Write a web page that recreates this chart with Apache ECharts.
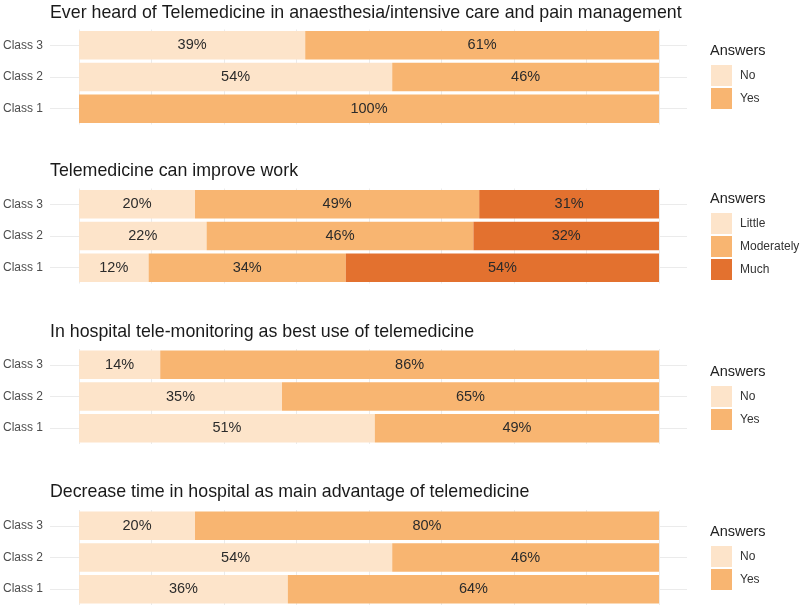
<!DOCTYPE html>
<html>
<head>
<meta charset="utf-8">
<script src="https://cdn.jsdelivr.net/npm/echarts@6/dist/echarts.min.js"></script>
<style>
  html, body { margin: 0; padding: 0; background: #fff; }
  #main { width: 800px; height: 608px; }
</style>
</head>
<body>
<div id="main"></div>
<script>
// categories, bottom to top
var classes = ['Class 1', 'Class 2', 'Class 3'];

var panelTitles = [
	'Ever heard of Telemedicine in anaesthesia/intensive care and pain management',
	'Telemedicine can improve work',
	'In hospital tele-monitoring as best use of telemedicine',
	'Decrease time in hospital as main advantage of telemedicine'
];

// percentages per class (Class 1, Class 2, Class 3)
var heardNo = [0, 54, 39];
var heardYes = [100, 46, 61];

var improveLittle = [12, 22, 20];
var improveModerately = [34, 46, 49];
var improveMuch = [54, 32, 31];

var monitoringNo = [51, 35, 14];
var monitoringYes = [49, 65, 86];

var timeNo = [36, 54, 20];
var timeYes = [64, 46, 80];

var panels = [
	[ { name : 'No', values : heardNo }, { name : 'Yes', values : heardYes } ],
	[ { name : 'Little', values : improveLittle }, { name : 'Moderately', values : improveModerately }, { name : 'Much', values : improveMuch } ],
	[ { name : 'No', values : monitoringNo }, { name : 'Yes', values : monitoringYes } ],
	[ { name : 'No', values : timeNo }, { name : 'Yes', values : timeYes } ]
];

var colors = {
	'No' : '#fde4ca',
	'Little' : '#fde4ca',
	'Yes' : '#f8b571',
	'Moderately' : '#f8b571',
	'Much' : '#e3712f'
};

// layout
var gridTop = [29.5, 188.5, 349, 510];
var gridHeight = 95;
var titleTop = [4, 162, 323, 483];
var legendTop = [65, 213, 386, 546];

var gridColor = '#ebebeb';
var font = '"Liberation Sans", Arial, Helvetica, sans-serif';

var option = {
	animation : false,
	backgroundColor : '#ffffff',
	textStyle : { fontFamily : font },
	title : [],
	legend : [],
	grid : [],
	xAxis : [],
	yAxis : [],
	series : []
};

panels.forEach(function(answers, p) {
	option.title.push({
		text : panelTitles[p],
		left : 50,
		top : titleTop[p],
		padding : 0,
		textStyle : { fontSize : 17.8, fontWeight : 'normal', color : '#1a1a1a', fontFamily : font }
	});
	option.title.push({
		text : 'Answers',
		left : 710,
		top : legendTop[p] - 22,
		padding : 0,
		textStyle : { fontSize : 14.5, fontWeight : 'normal', color : '#222', fontFamily : font }
	});
	option.legend.push({
		data : answers.map(function(a) { return a.name; }),
		orient : 'vertical',
		left : 711,
		top : legendTop[p],
		padding : 0,
		itemWidth : 21,
		itemHeight : 21,
		itemGap : 2,
		icon : 'rect',
		selectedMode : false,
		textStyle : { fontSize : 12, color : '#333', fontFamily : font, padding : [0, 0, 0, 3] }
	});
	option.grid.push({
		left : 79,
		right : 141,
		top : gridTop[p],
		height : gridHeight
	});
	option.xAxis.push({
		type : 'value',
		gridIndex : p,
		min : 0,
		max : 100,
		interval : 12.5,
		axisLabel : { show : false },
		axisLine : { show : false },
		axisTick : { show : false },
		splitLine : { show : true, lineStyle : { color : gridColor, width : 1 } }
	});
	option.yAxis.push({
		type : 'category',
		gridIndex : p,
		data : classes,
		position : 'left',
		axisLine : { show : false },
		axisTick : { show : true, length : 29, alignWithLabel : true, lineStyle : { color : gridColor, width : 1 } },
		axisLabel : { margin : 36, fontSize : 12, color : '#4d4d4d', fontFamily : font },
		splitLine : { show : false }
	});
	option.yAxis.push({
		type : 'category',
		gridIndex : p,
		data : classes,
		position : 'right',
		axisLine : { show : false },
		axisTick : { show : true, length : 28, alignWithLabel : true, lineStyle : { color : gridColor, width : 1 } },
		axisLabel : { show : false },
		splitLine : { show : false }
	});
	answers.forEach(function(a) {
		option.series.push({
			name : a.name,
			type : 'bar',
			stack : 'panel' + p,
			xAxisIndex : p,
			yAxisIndex : p * 2,
			barCategoryGap : '10%',
			data : a.values,
			itemStyle : { color : colors[a.name] },
			label : {
				show : true,
				position : 'inside',
				fontSize : 14.5,
				color : '#2b2b2b',
				fontFamily : font,
				formatter : function(d) { return d.value > 0 ? d.value + '%' : ''; }
			}
		});
	});
});

var myChart = echarts.init(document.getElementById('main'));
myChart.setOption(option);
</script>
</body>
</html>
